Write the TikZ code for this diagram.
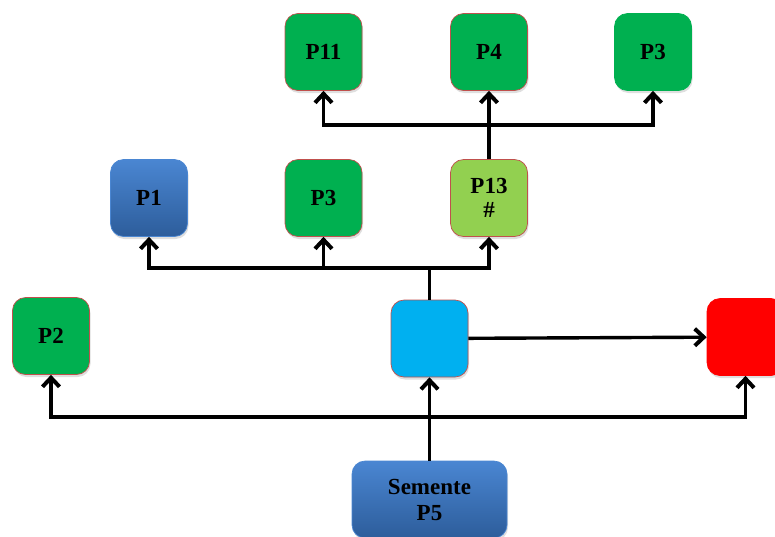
\documentclass[tikz,border=0pt]{standalone}
\usepackage{fontspec}
\setmainfont{Liberation Serif}
\usetikzlibrary{positioning,arrows.meta,shadows}
\definecolor{boxgreen}{HTML}{00B050}
\definecolor{boxlime}{HTML}{92D050}
\definecolor{boxcyan}{HTML}{00B0F0}
\definecolor{boxred}{HTML}{FF0000}
\definecolor{edgered}{HTML}{C0504D}
\definecolor{bluetop}{HTML}{4A86D2}
\definecolor{bluebot}{HTML}{2D5D9B}
\tikzset{
  box/.style={minimum width=77pt, minimum height=77pt, rounded corners=13pt,
    line width=0.7pt, align=center, inner sep=0pt,
    font=\fontsize{23}{26}\selectfont\bfseries,
    drop shadow={opacity=0.25, shadow xshift=1pt, shadow yshift=-2.5pt}},
  greenbox/.style={box, fill=boxgreen, draw=edgered},
  limebox/.style={box, fill=boxlime, draw=edgered},
  bluebox/.style={box, top color=bluetop, bottom color=bluebot, draw=bluetop},
  link/.style={line width=3.4pt, -{Straight Barb[length=9pt,width=17pt,line width=4pt]}},
  line/.style={line width=3.4pt}
}
\begin{document}
\begin{tikzpicture}[x=1pt, y=-1pt]
    \useasboundingbox (0,0) rectangle (775,536);

    % top row
    \node[greenbox] (p11) at (323.5,52) {P11};
    \node[greenbox] (p4)  at (489,52)   {P4};
    \node[greenbox, draw=boxgreen] (p3a) at (653,52) {P3};

    % middle row
    \node[bluebox]  (p1)  at (149,198)  {P1};
    \node[greenbox] (p3b) at (323.5,198) {P3};
    \node[limebox]  (p13) at (489,198)  {P13\\[-2pt]\#};

    % lower row
    \node[greenbox] (p2)  at (51,336)   {P2};
    \node[box, fill=boxcyan, draw=edgered] (hub) at (429.5,338.5) {};
    \node[box, fill=boxred, draw=boxred] (end) at (745.5,337) {};

    % seed
    \node[bluebox, minimum width=155pt] (seed) at (429.5,499.5) {Semente\\P5};

    \coordinate (bus1) at (429.5,417);
    \coordinate (bus2) at (429.5,268);
    \coordinate (bus3) at (489,125);

    \draw[link] (seed) -- (hub);
    \draw[link] (bus1) -| (p2);
    \draw[link] (bus1) -| (end);
    \draw[link] (hub) -- (end);

    \draw[line] (hub) -- (bus2);
    \draw[link] (bus2) -| (p1);
    \draw[link] (bus2) -| (p3b);
    \draw[link] (bus2) -| (p13);

    \draw[link] (p13) -- (p4);
    \draw[link] (bus3) -| (p11);
    \draw[link] (bus3) -| (p3a);

\end{tikzpicture}
\end{document}
